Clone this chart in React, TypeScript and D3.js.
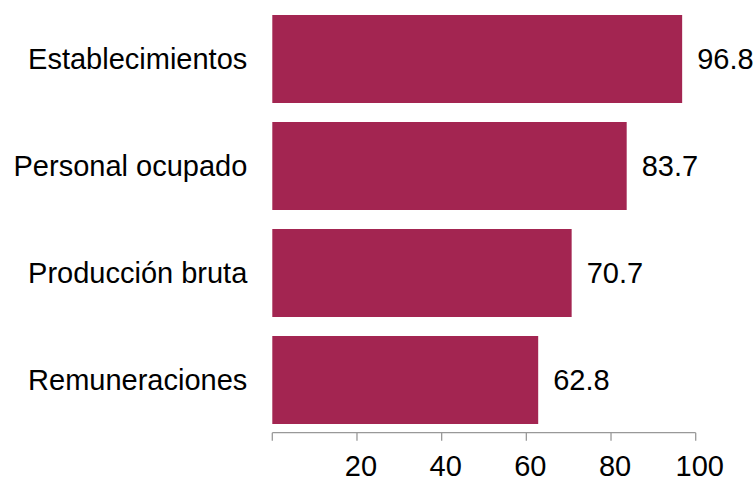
import React from "react";
import * as d3 from "d3";

const categories = ["Establecimientos", "Personal ocupado", "Producción bruta", "Remuneraciones"];
const values = [96.8, 83.7, 70.7, 62.8];
const tickValues = [0, 20, 40, 60, 80, 100];
const tickLabels = ["", "20", "40", "60", "80", "100"];

const W = 756;
const H = 479;
const FONT = "'Liberation Sans', Arial, Helvetica, sans-serif";
const BAR = "#A32551";

export default function App() {
  const x = d3.scaleLinear().domain([0, 100]).range([272.3, 695.7]);
  const y = d3.scaleBand<string>().domain(categories).range([5.5, 433.5]).paddingInner(0.1776).paddingOuter(0.0888);
  const axisY = 432.7;
  return (
    <svg width={W} height={H} style={{ position: "absolute", left: 0, top: 0, background: "#fff" }}>
      {categories.map((c, i) => {
        const yy = y(c)!;
        const bw = y.bandwidth();
        return (
          <g key={c}>
            <rect x={x(0)} y={yy} width={x(values[i]) - x(0)} height={bw} fill={BAR} />
            <text x={x(0) - 25} y={yy + bw / 2} dy="0.36em" textAnchor="end" fontFamily={FONT} fontSize={29} fill="#000">
              {c}
            </text>
            <text x={x(values[i]) + 15} y={yy + bw / 2} dy="0.36em" textAnchor="start" fontFamily={FONT} fontSize={29} fill="#000">
              {values[i].toFixed(1)}
            </text>
          </g>
        );
      })}
      <line x1={x(0)} x2={x(100)} y1={axisY} y2={axisY} stroke="#999" strokeWidth={1.3} />
      {tickValues.map((t, i) => (
        <g key={t}>
          <line x1={x(t)} x2={x(t)} y1={axisY} y2={axisY + 8} stroke="#999" strokeWidth={1.3} />
          <text x={x(t) + 4} y={476} textAnchor="middle" fontFamily={FONT} fontSize={29} fill="#000">
            {tickLabels[i]}
          </text>
        </g>
      ))}
    </svg>
  );
}
